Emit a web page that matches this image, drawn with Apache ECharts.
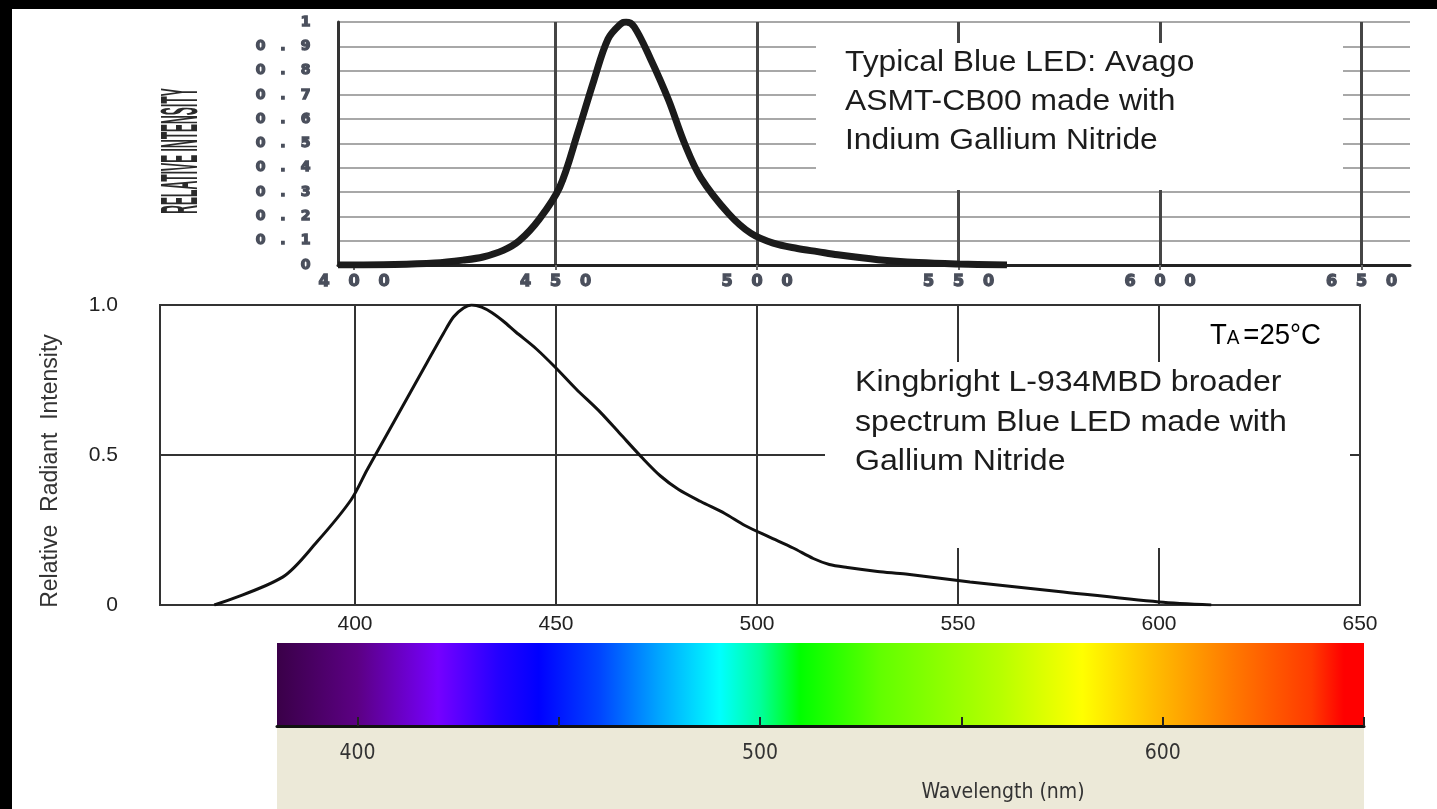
<!DOCTYPE html>
<html><head><meta charset="utf-8">
<script src="https://cdn.jsdelivr.net/npm/echarts@6/dist/echarts.min.js"></script>
<style>html,body{margin:0;padding:0;background:#fff;overflow:hidden}#c{width:1437px;height:809px}</style>
</head><body><div id="c"></div>
<script>
// ---- data ----
const avagoWl  = [396, 410, 420, 427, 432, 437, 441, 446, 451, 455.5, 459.5, 463, 466, 467.5, 469.5, 473.5, 478, 482, 486, 493, 498.5, 504, 510, 515, 520, 530, 540, 550, 562];
const avagoVal = [0, 0.002, 0.008, 0.02, 0.033, 0.06, 0.10, 0.19, 0.32, 0.545, 0.76, 0.93, 0.99, 1.0, 0.98, 0.85, 0.68, 0.50, 0.36, 0.21, 0.13, 0.09, 0.068, 0.055, 0.042, 0.022, 0.01, 0.004, 0];
const kbWl  = [365, 382, 390.5, 399, 403, 408, 413, 418, 422, 424.5, 427, 429, 431.5, 434, 437, 440, 445, 450, 455, 461, 466, 471.5, 476, 480.5, 486, 492, 497, 503, 509, 514, 518, 522.5, 530, 537, 553, 575, 600, 613];
const kbVal = [0, 0.093, 0.21, 0.35, 0.45, 0.57, 0.69, 0.81, 0.905, 0.96, 0.99, 1.0, 0.993, 0.975, 0.945, 0.91, 0.855, 0.79, 0.72, 0.643, 0.57, 0.49, 0.43, 0.385, 0.345, 0.305, 0.265, 0.227, 0.19, 0.155, 0.135, 0.125, 0.112, 0.103, 0.077, 0.045, 0.01, 0];
const topXTicks  = [400, 450, 500, 550, 600, 650];
const botXTicks  = [400, 450, 500, 550, 600];
const botXLabels = [400, 450, 500, 550, 600, 650];
const specRange  = [380, 650];
const specTicks  = [400, 450, 500, 550, 600, 650];
const specLabels = [400, 500, 600];
const specStopWl    = [380, 400, 420, 435, 445, 460, 475, 490, 500, 510, 530, 560, 580, 597, 617, 637, 645, 650];
const specStopColor = ['#3a0048', '#5c0084', '#7600ff', '#2400ff', '#0000ff', '#0044ff', '#00a6ff', '#00ffff', '#00ff9c', '#00ff00', '#62ff00', '#b8ff00', '#ffff00', '#ffc000', '#ff7a00', '#ff3a00', '#ff0000', '#ff0000'];

// ---- helpers ----
const pairs = (xs, ys) => xs.map((x, i) => [x, ys[i]]);
const FONT = '"Liberation Sans", Arial, sans-serif';
const spread = s => String(s).split('').map(ch => ch === '.' ? '{d|.}' : '{c|' + ch + '}').join('');
const spreadRich = (w, dw, fs) => {
  const base = {align: 'center', fontSize: fs, fontWeight: 'bold', fontFamily: 'DejaVu Sans', color: '#4a4f5c',
                textBorderColor: '#4a4f5c', textBorderWidth: 1.3};
  return {c: Object.assign({width: w}, base), d: Object.assign({width: dw}, base)};
};
const specSpan = specRange[1] - specRange[0];
const specStops = specStopWl.map((w, i) => ({offset: (w - specRange[0]) / specSpan, color: specStopColor[i]}));

const chart = echarts.init(document.getElementById('c'));
chart.setOption({
  backgroundColor: '#ffffff',
  animation: false,
  grid: [
    {left: 338, top: 22, width: 1072, height: 243},
    {left: 160, top: 305, width: 1200, height: 300, show: true, borderColor: '#333', borderWidth: 2, backgroundColor: 'transparent'},
    {left: 277, top: 643, width: 1087, height: 83}
  ],
  xAxis: [
    {gridIndex: 0, type: 'value', min: 396, max: 662,
     axisLine: {show: true, onZero: false, lineStyle: {color: '#222', width: 3}},
     axisTick: {show: true, customValues: topXTicks, length: 5, lineStyle: {color: '#666', width: 2}},
     axisLabel: {customValues: topXTicks, margin: 9, formatter: v => spread(v), rich: spreadRich(30, 12, 16)},
     splitLine: {show: true, lineStyle: {color: ['rgba(0,0,0,0)', '#454545', '#454545', '#454545', '#454545', '#454545'], width: 3}}},
    {gridIndex: 1, type: 'value', min: 351.5, max: 650,
     axisLine: {show: false}, axisTick: {show: false, customValues: botXTicks},
     axisLabel: {customValues: botXLabels, margin: 9, fontSize: 21, color: '#222', fontFamily: FONT},
     splitLine: {show: true, lineStyle: {color: '#333', width: 2}}},
    {gridIndex: 2, type: 'value', min: specRange[0], max: specRange[1], z: 5,
     axisLine: {show: true, onZero: false, lineStyle: {color: '#111', width: 3}},
     axisTick: {show: true, inside: true, length: 9, customValues: specTicks, lineStyle: {color: '#222', width: 2}},
     axisLabel: {customValues: specLabels, margin: 17, fontSize: 21, color: '#333', fontFamily: '"DejaVu Sans Condensed", "DejaVu Sans", sans-serif'},
     splitLine: {show: false}}
  ],
  yAxis: [
    {gridIndex: 0, type: 'value', min: 0, max: 1, interval: 0.1,
     axisLine: {show: true, lineStyle: {color: '#333', width: 3}},
     axisTick: {show: false},
     axisLabel: {margin: 18, formatter: v => spread(+v.toFixed(1)), rich: spreadRich(29, 16, 14)},
     splitLine: {show: true, lineStyle: {color: '#a8a8a8', width: 2}}},
    {gridIndex: 1, type: 'value', min: 0, max: 1, interval: 0.5,
     name: 'Relative  Radiant  Intensity', nameLocation: 'middle', nameGap: 98,
     nameTextStyle: {fontSize: 23, color: '#333', fontFamily: FONT, padding: [0, 32, 0, 0]},
     axisLine: {show: false}, axisTick: {show: false},
     axisLabel: {margin: 42, fontSize: 21, color: '#222', fontFamily: FONT, formatter: v => v === 0 ? '0' : v.toFixed(1)},
     splitLine: {show: true, lineStyle: {color: '#333', width: 2}}},
    {gridIndex: 2, type: 'value', min: 0, max: 1, show: false}
  ],
  series: [
    {type: 'line', xAxisIndex: 0, yAxisIndex: 0, data: pairs(avagoWl, avagoVal), smooth: 0.35,
     symbol: 'none', lineStyle: {color: '#1b1b1b', width: 7}},
    {type: 'line', xAxisIndex: 1, yAxisIndex: 1, data: pairs(kbWl, kbVal), smooth: 0.3,
     symbol: 'none', lineStyle: {color: '#111', width: 3}},
    {type: 'line', xAxisIndex: 2, yAxisIndex: 2, data: specRange.map(w => [w, 1]), symbol: 'none',
     lineStyle: {width: 0, opacity: 0},
     areaStyle: {opacity: 1, color: new echarts.graphic.LinearGradient(0, 0, 1, 0, specStops)}}
  ],
  graphic: {elements: [
    {type: 'rect', z: -1, shape: {x: 277, y: 727, width: 1087, height: 82}, style: {fill: '#ECE9D8'}},
    {type: 'rect', z: 1, shape: {x: 816, y: 43, width: 527, height: 147}, style: {fill: '#fff'}},
    {type: 'rect', z: 1, shape: {x: 825, y: 362, width: 525, height: 186}, style: {fill: '#fff'}},
    {type: 'text', z: 3, x: 845, y: 43, scaleX: 1.06, style: {text: 'Typical Blue LED: Avago\nASMT-CB00 made with\nIndium Gallium Nitride',
      font: '30px ' + FONT, lineHeight: 39, fill: '#1c1c1c', textVerticalAlign: 'top', verticalAlign: 'top'}},
    {type: 'text', z: 3, x: 855, y: 363, scaleX: 1.07, style: {text: 'Kingbright L-934MBD broader\nspectrum Blue LED made with\nGallium Nitride',
      font: '30px ' + FONT, lineHeight: 39.5, fill: '#1c1c1c', textVerticalAlign: 'top', verticalAlign: 'top'}},
    {type: 'text', z: 3, x: 1210, y: 336, scaleX: 0.95, style: {text: '{t|T}{a|A}{e|=25°C}',
      rich: {t: {fontSize: 29, fontFamily: FONT, color: '#222'},
             a: {fontSize: 20, fontFamily: FONT, color: '#222', verticalAlign: 'bottom', padding: [0, 4, 2, 0]},
             e: {fontSize: 29, fontFamily: FONT, color: '#222'}},
      textVerticalAlign: 'middle', verticalAlign: 'middle'}},
    {type: 'text', z: 3, x: 183, y: 151, rotation: Math.PI / 2, scaleX: 0.93, scaleY: 4,
     style: {text: 'RELATIVE INTENSITY', font: 'bold 13px ' + FONT, fill: '#2a2a2a',
      textAlign: 'center', align: 'center', textVerticalAlign: 'middle', verticalAlign: 'middle'}},
    {type: 'text', z: 3, x: 1003, y: 793, style: {text: 'Wavelength (nm)', font: '21px "DejaVu Sans Condensed", "DejaVu Sans", sans-serif',
      fill: '#333', textAlign: 'center', align: 'center', textVerticalAlign: 'middle', verticalAlign: 'middle'}},
    {type: 'rect', z: 100, shape: {x: 0, y: 0, width: 1437, height: 9}, style: {fill: '#000'}},
    {type: 'rect', z: 100, shape: {x: 0, y: 0, width: 12, height: 809}, style: {fill: '#000'}}
  ]}
});
</script>
</body></html>
